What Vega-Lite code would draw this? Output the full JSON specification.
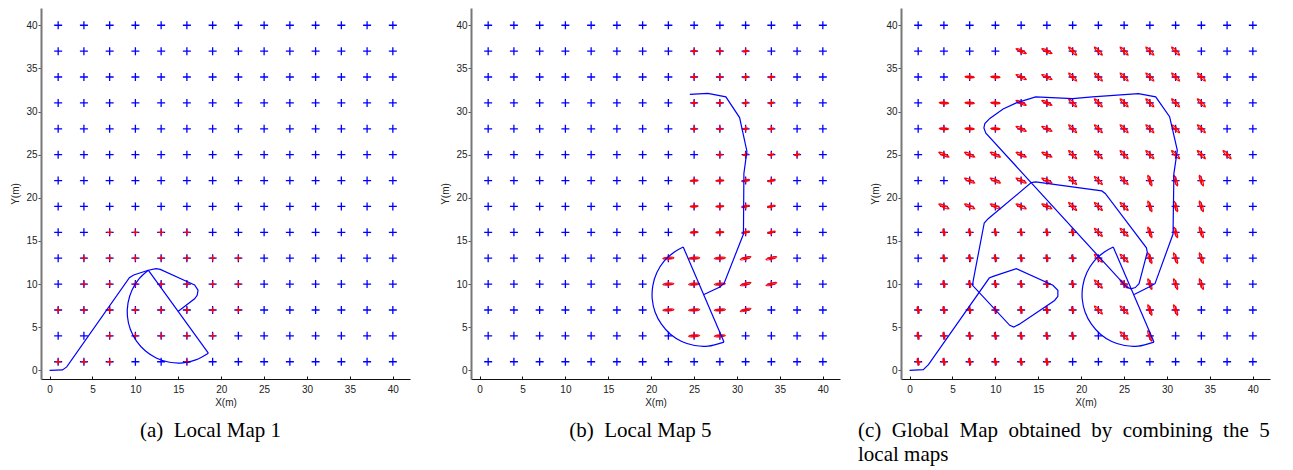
{
  "$schema": "https://vega.github.io/schema/vega-lite/v6.json",
  "padding": {"left": 10, "top": 8, "right": 5, "bottom": 5},
  "datasets": {
    "grid": [
      {"x":1,"y":1},{"x":4,"y":1},{"x":7,"y":1},{"x":10,"y":1},{"x":13,"y":1},{"x":16,"y":1},{"x":19,"y":1},{"x":22,"y":1},{"x":25,"y":1},{"x":28,"y":1},{"x":31,"y":1},{"x":34,"y":1},{"x":37,"y":1},{"x":40,"y":1},
      {"x":1,"y":4},{"x":4,"y":4},{"x":7,"y":4},{"x":10,"y":4},{"x":13,"y":4},{"x":16,"y":4},{"x":19,"y":4},{"x":22,"y":4},{"x":25,"y":4},{"x":28,"y":4},{"x":31,"y":4},{"x":34,"y":4},{"x":37,"y":4},{"x":40,"y":4},
      {"x":1,"y":7},{"x":4,"y":7},{"x":7,"y":7},{"x":10,"y":7},{"x":13,"y":7},{"x":16,"y":7},{"x":19,"y":7},{"x":22,"y":7},{"x":25,"y":7},{"x":28,"y":7},{"x":31,"y":7},{"x":34,"y":7},{"x":37,"y":7},{"x":40,"y":7},
      {"x":1,"y":10},{"x":4,"y":10},{"x":7,"y":10},{"x":10,"y":10},{"x":13,"y":10},{"x":16,"y":10},{"x":19,"y":10},{"x":22,"y":10},{"x":25,"y":10},{"x":28,"y":10},{"x":31,"y":10},{"x":34,"y":10},{"x":37,"y":10},{"x":40,"y":10},
      {"x":1,"y":13},{"x":4,"y":13},{"x":7,"y":13},{"x":10,"y":13},{"x":13,"y":13},{"x":16,"y":13},{"x":19,"y":13},{"x":22,"y":13},{"x":25,"y":13},{"x":28,"y":13},{"x":31,"y":13},{"x":34,"y":13},{"x":37,"y":13},{"x":40,"y":13},
      {"x":1,"y":16},{"x":4,"y":16},{"x":7,"y":16},{"x":10,"y":16},{"x":13,"y":16},{"x":16,"y":16},{"x":19,"y":16},{"x":22,"y":16},{"x":25,"y":16},{"x":28,"y":16},{"x":31,"y":16},{"x":34,"y":16},{"x":37,"y":16},{"x":40,"y":16},
      {"x":1,"y":19},{"x":4,"y":19},{"x":7,"y":19},{"x":10,"y":19},{"x":13,"y":19},{"x":16,"y":19},{"x":19,"y":19},{"x":22,"y":19},{"x":25,"y":19},{"x":28,"y":19},{"x":31,"y":19},{"x":34,"y":19},{"x":37,"y":19},{"x":40,"y":19},
      {"x":1,"y":22},{"x":4,"y":22},{"x":7,"y":22},{"x":10,"y":22},{"x":13,"y":22},{"x":16,"y":22},{"x":19,"y":22},{"x":22,"y":22},{"x":25,"y":22},{"x":28,"y":22},{"x":31,"y":22},{"x":34,"y":22},{"x":37,"y":22},{"x":40,"y":22},
      {"x":1,"y":25},{"x":4,"y":25},{"x":7,"y":25},{"x":10,"y":25},{"x":13,"y":25},{"x":16,"y":25},{"x":19,"y":25},{"x":22,"y":25},{"x":25,"y":25},{"x":28,"y":25},{"x":31,"y":25},{"x":34,"y":25},{"x":37,"y":25},{"x":40,"y":25},
      {"x":1,"y":28},{"x":4,"y":28},{"x":7,"y":28},{"x":10,"y":28},{"x":13,"y":28},{"x":16,"y":28},{"x":19,"y":28},{"x":22,"y":28},{"x":25,"y":28},{"x":28,"y":28},{"x":31,"y":28},{"x":34,"y":28},{"x":37,"y":28},{"x":40,"y":28},
      {"x":1,"y":31},{"x":4,"y":31},{"x":7,"y":31},{"x":10,"y":31},{"x":13,"y":31},{"x":16,"y":31},{"x":19,"y":31},{"x":22,"y":31},{"x":25,"y":31},{"x":28,"y":31},{"x":31,"y":31},{"x":34,"y":31},{"x":37,"y":31},{"x":40,"y":31},
      {"x":1,"y":34},{"x":4,"y":34},{"x":7,"y":34},{"x":10,"y":34},{"x":13,"y":34},{"x":16,"y":34},{"x":19,"y":34},{"x":22,"y":34},{"x":25,"y":34},{"x":28,"y":34},{"x":31,"y":34},{"x":34,"y":34},{"x":37,"y":34},{"x":40,"y":34},
      {"x":1,"y":37},{"x":4,"y":37},{"x":7,"y":37},{"x":10,"y":37},{"x":13,"y":37},{"x":16,"y":37},{"x":19,"y":37},{"x":22,"y":37},{"x":25,"y":37},{"x":28,"y":37},{"x":31,"y":37},{"x":34,"y":37},{"x":37,"y":37},{"x":40,"y":37},
      {"x":1,"y":40},{"x":4,"y":40},{"x":7,"y":40},{"x":10,"y":40},{"x":13,"y":40},{"x":16,"y":40},{"x":19,"y":40},{"x":22,"y":40},{"x":25,"y":40},{"x":28,"y":40},{"x":31,"y":40},{"x":34,"y":40},{"x":37,"y":40},{"x":40,"y":40}
    ],
    "obs1": [
      {"x":7,"y":16},{"x":10,"y":16},{"x":13,"y":16},{"x":16,"y":16},
      {"x":4,"y":13},{"x":7,"y":13},{"x":10,"y":13},{"x":13,"y":13},{"x":16,"y":13},{"x":19,"y":13},{"x":22,"y":13},
      {"x":4,"y":10},{"x":7,"y":10},{"x":10,"y":10},{"x":13,"y":10},{"x":16,"y":10},{"x":19,"y":10},{"x":22,"y":10},
      {"x":1,"y":7},{"x":4,"y":7},{"x":7,"y":7},{"x":10,"y":7},{"x":13,"y":7},{"x":16,"y":7},{"x":19,"y":7},{"x":22,"y":7},
      {"x":7,"y":4},{"x":10,"y":4},{"x":13,"y":4},{"x":16,"y":4},{"x":19,"y":4},
      {"x":1,"y":1},{"x":4,"y":1},{"x":7,"y":1},{"x":16,"y":1}
    ],
    "obs2": [
      {"x":25,"y":37},{"x":28,"y":37},{"x":31,"y":37},
      {"x":25,"y":34},{"x":28,"y":34},{"x":31,"y":34},{"x":34,"y":34},
      {"x":25,"y":31},{"x":28,"y":31},{"x":31,"y":31},{"x":34,"y":31},
      {"x":25,"y":28},{"x":28,"y":28},{"x":31,"y":28},{"x":34,"y":28},
      {"x":28,"y":25},{"x":31,"y":25},{"x":34,"y":25},{"x":37,"y":25},
      {"x":25,"y":22},{"x":28,"y":22},{"x":31,"y":22},{"x":34,"y":22},
      {"x":25,"y":19},{"x":28,"y":19},{"x":31,"y":19},{"x":34,"y":19},
      {"x":25,"y":16},{"x":28,"y":16},{"x":31,"y":16},{"x":34,"y":16},
      {"x":22,"y":13},{"x":25,"y":13},{"x":28,"y":13},{"x":31,"y":13},{"x":34,"y":13},
      {"x":22,"y":10},{"x":25,"y":10},{"x":28,"y":10},{"x":31,"y":10},{"x":34,"y":10},
      {"x":22,"y":7},{"x":25,"y":7},{"x":28,"y":7},{"x":31,"y":7},
      {"x":25,"y":4},{"x":28,"y":4}
    ],
    "obs3": [
      {"x":13,"y":37},{"x":16,"y":37},{"x":19,"y":37},{"x":22,"y":37},{"x":25,"y":37},{"x":28,"y":37},{"x":31,"y":37},
      {"x":7,"y":34},{"x":10,"y":34},{"x":13,"y":34},{"x":16,"y":34},{"x":19,"y":34},{"x":22,"y":34},{"x":25,"y":34},{"x":28,"y":34},{"x":31,"y":34},{"x":34,"y":34},
      {"x":4,"y":31},{"x":7,"y":31},{"x":10,"y":31},{"x":13,"y":31},{"x":16,"y":31},{"x":19,"y":31},{"x":22,"y":31},{"x":25,"y":31},{"x":28,"y":31},{"x":31,"y":31},{"x":34,"y":31},
      {"x":4,"y":28},{"x":7,"y":28},{"x":10,"y":28},{"x":13,"y":28},{"x":16,"y":28},{"x":19,"y":28},{"x":22,"y":28},{"x":25,"y":28},{"x":28,"y":28},{"x":31,"y":28},{"x":34,"y":28},
      {"x":4,"y":25},{"x":7,"y":25},{"x":10,"y":25},{"x":13,"y":25},{"x":16,"y":25},{"x":19,"y":25},{"x":22,"y":25},{"x":25,"y":25},{"x":28,"y":25},{"x":31,"y":25},{"x":34,"y":25},{"x":37,"y":25},
      {"x":7,"y":22},{"x":10,"y":22},{"x":13,"y":22},{"x":16,"y":22},{"x":19,"y":22},{"x":22,"y":22},{"x":25,"y":22},{"x":28,"y":22},{"x":31,"y":22},{"x":34,"y":22},
      {"x":4,"y":19},{"x":7,"y":19},{"x":10,"y":19},{"x":13,"y":19},{"x":16,"y":19},{"x":19,"y":19},{"x":22,"y":19},{"x":25,"y":19},{"x":28,"y":19},{"x":31,"y":19},{"x":34,"y":19},
      {"x":4,"y":16},{"x":7,"y":16},{"x":10,"y":16},{"x":13,"y":16},{"x":16,"y":16},{"x":19,"y":16},{"x":22,"y":16},{"x":25,"y":16},{"x":28,"y":16},{"x":31,"y":16},{"x":34,"y":16},
      {"x":4,"y":13},{"x":7,"y":13},{"x":10,"y":13},{"x":13,"y":13},{"x":16,"y":13},{"x":19,"y":13},{"x":22,"y":13},{"x":25,"y":13},{"x":28,"y":13},{"x":31,"y":13},{"x":34,"y":13},
      {"x":4,"y":10},{"x":7,"y":10},{"x":10,"y":10},{"x":13,"y":10},{"x":16,"y":10},{"x":19,"y":10},{"x":22,"y":10},{"x":25,"y":10},{"x":28,"y":10},{"x":31,"y":10},{"x":34,"y":10},
      {"x":1,"y":7},{"x":4,"y":7},{"x":7,"y":7},{"x":10,"y":7},{"x":13,"y":7},{"x":16,"y":7},{"x":19,"y":7},{"x":22,"y":7},{"x":25,"y":7},{"x":28,"y":7},{"x":31,"y":7},
      {"x":1,"y":4},{"x":4,"y":4},{"x":7,"y":4},{"x":10,"y":4},{"x":13,"y":4},{"x":16,"y":4},{"x":19,"y":4},{"x":25,"y":4},{"x":28,"y":4},
      {"x":1,"y":1},{"x":4,"y":1},{"x":7,"y":1},{"x":10,"y":1},{"x":13,"y":1},{"x":16,"y":1}
    ],
    "traj1": [
      {"i":0,"x":0,"y":0},{"i":1,"x":1.5,"y":0.05},{"i":2,"x":2.0,"y":0.4},{"i":3,"x":9.3,"y":10.75},{"i":4,"x":9.8,"y":11.05},
      {"i":5,"x":11.5,"y":11.6},{"i":6,"x":12.4,"y":11.8},{"i":7,"x":12.9,"y":11.7},{"i":8,"x":16.0,"y":10.3},{"i":9,"x":16.9,"y":9.9},
      {"i":10,"x":17.3,"y":9.3},{"i":11,"x":17.2,"y":8.7},{"i":12,"x":16.9,"y":8.3},{"i":13,"x":15.0,"y":6.85}
    ],
    "sector1": [
      {"seg":"arc","i":0,"x":18.5,"y":1.99},{"seg":"arc","i":1,"x":17.03,"y":1.21},{"seg":"arc","i":2,"x":15.52,"y":0.87},
      {"seg":"arc","i":3,"x":13.97,"y":0.94},{"seg":"arc","i":4,"x":12.48,"y":1.41},{"seg":"arc","i":5,"x":11.18,"y":2.24},
      {"seg":"arc","i":6,"x":10.13,"y":3.39},{"seg":"arc","i":7,"x":9.41,"y":4.77},{"seg":"arc","i":8,"x":9.07,"y":6.28},
      {"seg":"arc","i":9,"x":9.14,"y":7.83},{"seg":"arc","i":10,"x":9.61,"y":9.32},{"seg":"arc","i":11,"x":10.44,"y":10.63},
      {"seg":"arc","i":12,"x":11.5,"y":11.61},
      {"seg":"dia","i":0,"x":11.5,"y":11.61},{"seg":"dia","i":1,"x":18.5,"y":1.99}
    ],
    "traj2": [
      {"i":0,"x":24.5,"y":32.0},{"i":1,"x":26.6,"y":32.1},{"i":2,"x":28.7,"y":31.7},{"i":3,"x":30.3,"y":29.3},{"i":4,"x":31.15,"y":25.4},
      {"i":5,"x":30.8,"y":22.8},{"i":6,"x":30.75,"y":15.8},{"i":7,"x":28.5,"y":10.1},{"i":8,"x":28.0,"y":9.65},{"i":9,"x":26.15,"y":8.8}
    ],
    "sector2": [
      {"seg":"arc","i":0,"x":28.48,"y":3.28},{"seg":"arc","i":1,"x":26.62,"y":2.81},{"seg":"arc","i":2,"x":25.06,"y":2.88},
      {"seg":"arc","i":3,"x":23.56,"y":3.35},{"seg":"arc","i":4,"x":22.24,"y":4.19},{"seg":"arc","i":5,"x":21.19,"y":5.35},
      {"seg":"arc","i":6,"x":20.46,"y":6.74},{"seg":"arc","i":7,"x":20.12,"y":8.27},{"seg":"arc","i":8,"x":20.19,"y":9.83},
      {"seg":"arc","i":9,"x":20.66,"y":11.33},{"seg":"arc","i":10,"x":21.5,"y":12.65},{"seg":"arc","i":11,"x":22.66,"y":13.7},
      {"seg":"arc","i":12,"x":23.73,"y":14.3},
      {"seg":"dia","i":0,"x":23.73,"y":14.3},{"seg":"dia","i":1,"x":28.48,"y":3.28}
    ],
    "traj3": [
      {"i":0,"x":0,"y":0},{"i":1,"x":1.6,"y":0.08},{"i":2,"x":2.2,"y":0.66},{"i":3,"x":9.28,"y":10.7},{"i":4,"x":9.74,"y":10.9},
      {"i":5,"x":12.44,"y":11.79},{"i":6,"x":16.7,"y":9.86},{"i":7,"x":17.28,"y":9.28},{"i":8,"x":17.28,"y":8.58},{"i":9,"x":16.9,"y":8.1},
      {"i":10,"x":12.75,"y":5.33},{"i":11,"x":12.14,"y":5.02},{"i":12,"x":11.67,"y":5.22},{"i":13,"x":7.34,"y":9.86},{"i":14,"x":7.42,"y":10.43},
      {"i":15,"x":8.7,"y":17.08},{"i":16,"x":9.16,"y":17.58},{"i":17,"x":14.18,"y":21.76},{"i":18,"x":14.69,"y":21.84},{"i":19,"x":22.4,"y":20.8},
      {"i":20,"x":22.8,"y":20.5},{"i":21,"x":27.6,"y":14.2},{"i":22,"x":27.7,"y":13.7},{"i":23,"x":26.74,"y":10.05},{"i":24,"x":26.3,"y":9.6},
      {"i":25,"x":25.8,"y":9.45},{"i":26,"x":25.3,"y":9.65},{"i":27,"x":8.89,"y":27.5},{"i":28,"x":8.66,"y":28.1},{"i":29,"x":8.77,"y":28.6},
      {"i":30,"x":9.35,"y":29.2},{"i":31,"x":10.9,"y":30.3},{"i":32,"x":12.44,"y":31.0},{"i":33,"x":14.69,"y":31.7},{"i":34,"x":19.0,"y":31.5},
      {"i":35,"x":21.3,"y":31.7},{"i":36,"x":26.67,"y":32.08},{"i":37,"x":28.68,"y":31.7},{"i":38,"x":30.3,"y":29.4},{"i":39,"x":31.2,"y":25.5},
      {"i":40,"x":30.8,"y":22.8},{"i":41,"x":30.7,"y":15.8},{"i":42,"x":28.6,"y":10.05},{"i":43,"x":27.9,"y":9.66},{"i":44,"x":26.17,"y":8.8}
    ]
  },
  "spacing": 61,
  "bounds": "flush",
  "hconcat": [
    {
      "width": 369, "height": 371,
      "title": {"text": "(a)\u00a0 Local Map 1", "anchor": "middle", "frame": "bounds"},
      "encoding": {
        "x": {"field": "x", "type": "quantitative", "scale": {"domain": [-1, 42], "nice": false, "zero": false},
              "axis": {"title": "X(m)", "values": [0,5,10,15,20,25,30,35,40], "tickSize": -3, "labelPadding": 8, "titlePadding": 3, "domainColor": "#111", "tickColor": "#111", "labelFlush": false}},
        "y": {"field": "y", "type": "quantitative", "scale": {"domain": [-1, 42], "nice": false, "zero": false},
              "axis": {"title": "Y(m)", "values": [0,5,10,15,20,25,30,35,40], "tickSize": 3, "labelPadding": 1, "titlePadding": 5, "domainColor": "#777", "domainWidth": 2, "tickColor": "#555", "labelFlush": false}}
      },
      "layer": [
        {"data": {"name": "grid"}, "mark": {"type": "point", "shape": "M-1,0L1,0M0,-1L0,1", "size": 64, "filled": false, "color": "#0000ff", "strokeWidth": 1.3, "opacity": 1}},
        {"data": {"name": "obs1"}, "mark": {"type": "point", "shape": "M-1,0L1,0M0,-1L0,1", "size": 30, "filled": false, "color": "#ff0000", "strokeWidth": 1.3, "opacity": 1}},
        {"data": {"name": "traj1"}, "mark": {"type": "line", "color": "#0000ff", "strokeWidth": 1.2}, "encoding": {"order": {"field": "i", "type": "quantitative"}}},
        {"data": {"name": "sector1"}, "mark": {"type": "line", "color": "#0000ff", "strokeWidth": 1.2, "interpolate": "catmull-rom"}, "encoding": {"order": {"field": "i", "type": "quantitative"}, "detail": {"field": "seg", "type": "nominal"}}}
      ]
    },
    {
      "width": 369, "height": 371,
      "title": {"text": "(b)\u00a0 Local Map 5", "anchor": "middle", "frame": "bounds"},
      "encoding": {
        "x": {"field": "x", "type": "quantitative", "scale": {"domain": [-1, 42], "nice": false, "zero": false},
              "axis": {"title": "X(m)", "values": [0,5,10,15,20,25,30,35,40], "tickSize": -3, "labelPadding": 8, "titlePadding": 3, "domainColor": "#111", "tickColor": "#111", "labelFlush": false}},
        "y": {"field": "y", "type": "quantitative", "scale": {"domain": [-1, 42], "nice": false, "zero": false},
              "axis": {"title": "Y(m)", "values": [0,5,10,15,20,25,30,35,40], "tickSize": 3, "labelPadding": 1, "titlePadding": 5, "domainColor": "#777", "domainWidth": 2, "tickColor": "#555", "labelFlush": false}}
      },
      "layer": [
        {"data": {"name": "grid"}, "mark": {"type": "point", "shape": "M-1,0L1,0M0,-1L0,1", "size": 64, "filled": false, "color": "#0000ff", "strokeWidth": 1.3, "opacity": 1}},
        {"data": {"name": "obs2"}, "mark": {"type": "point", "shape": "M1,0L0.866,0.1L0.5,0.173L0,0.2L-0.5,0.173L-0.866,0.1L-1,0L-0.866,-0.1L-0.5,-0.173L0,-0.2L0.5,-0.173L0.866,-0.1Z", "filled": false, "color": "#ff0000", "strokeWidth": 1, "opacity": 1},
         "encoding": {
           "size": {"condition": [{"test": "datum.y <= 13", "value": 120}, {"test": "datum.y <= 22", "value": 60}], "value": 25},
           "angle": {"condition": [{"test": "datum.x >= 31", "value": -15}], "value": -4}
         }},
        {"data": {"name": "obs2"}, "mark": {"type": "point", "shape": "M-1,0L1,0M0,-1L0,1", "size": 30, "filled": false, "color": "#ff0000", "strokeWidth": 1.3, "opacity": 1}},
        {"data": {"name": "traj2"}, "mark": {"type": "line", "color": "#0000ff", "strokeWidth": 1.2}, "encoding": {"order": {"field": "i", "type": "quantitative"}}},
        {"data": {"name": "sector2"}, "mark": {"type": "line", "color": "#0000ff", "strokeWidth": 1.2, "interpolate": "catmull-rom"}, "encoding": {"order": {"field": "i", "type": "quantitative"}, "detail": {"field": "seg", "type": "nominal"}}}
      ]
    },
    {
      "width": 369, "height": 371,
      "title": {"text": ["(c) \u00a0Global \u00a0Map \u00a0obtained \u00a0by \u00a0combining \u00a0the \u00a05", "local maps"], "anchor": "start", "frame": "group", "dx": -43, "lineHeight": 23.5},
      "encoding": {
        "x": {"field": "x", "type": "quantitative", "scale": {"domain": [-1, 42], "nice": false, "zero": false},
              "axis": {"title": "X(m)", "values": [0,5,10,15,20,25,30,35,40], "tickSize": -3, "labelPadding": 8, "titlePadding": 3, "domainColor": "#111", "tickColor": "#111", "labelFlush": false}},
        "y": {"field": "y", "type": "quantitative", "scale": {"domain": [-1, 42], "nice": false, "zero": false},
              "axis": {"title": "Y(m)", "values": [0,5,10,15,20,25,30,35,40], "tickSize": 3, "labelPadding": 1, "titlePadding": 5, "domainColor": "#777", "domainWidth": 2, "tickColor": "#555", "labelFlush": false}}
      },
      "layer": [
        {"data": {"name": "grid"}, "mark": {"type": "point", "shape": "M-1,0L1,0M0,-1L0,1", "size": 64, "filled": false, "color": "#0000ff", "strokeWidth": 1.3, "opacity": 1}},
        {"data": {"name": "obs3"}, "mark": {"type": "point", "shape": "M1,0L0.866,0.1L0.5,0.173L0,0.2L-0.5,0.173L-0.866,0.1L-1,0L-0.866,-0.1L-0.5,-0.173L0,-0.2L0.5,-0.173L0.866,-0.1Z", "filled": false, "color": "#ff0000", "strokeWidth": 1.2, "opacity": 1},
         "encoding": {
           "size": {"condition": [{"test": "datum.y <= 16 && datum.x <= 19", "value": 40}, {"test": "datum.y >= 28 && datum.x <= 10", "value": 80}], "value": 120},
           "angle": {"condition": [{"test": "datum.y >= 28 && datum.x <= 10", "value": 3}, {"test": "datum.x >= 28 && datum.y <= 22", "value": 70}, {"test": "datum.y <= 16 && datum.x <= 19", "value": 75}, {"test": "datum.x <= 16", "value": 25}], "value": 45}
         }},
        {"data": {"name": "obs3"}, "mark": {"type": "point", "shape": "M-1,0L1,0M0,-1L0,1", "size": 30, "filled": false, "color": "#ff0000", "strokeWidth": 1.3, "opacity": 1}},
        {"data": {"name": "traj3"}, "mark": {"type": "line", "color": "#0000ff", "strokeWidth": 1.2}, "encoding": {"order": {"field": "i", "type": "quantitative"}}},
        {"data": {"name": "sector2"}, "mark": {"type": "line", "color": "#0000ff", "strokeWidth": 1.2, "interpolate": "catmull-rom"}, "encoding": {"order": {"field": "i", "type": "quantitative"}, "detail": {"field": "seg", "type": "nominal"}}}
      ]
    }
  ],
  "config": {
    "view": {"stroke": null},
    "font": "Liberation Sans",
    "axis": {"labelFont": "Liberation Sans", "labelFontSize": 10, "labelColor": "#222", "titleFont": "Liberation Sans", "titleFontSize": 10, "titleFontWeight": "normal", "titleColor": "#222", "grid": false},
    "title": {"font": "Liberation Serif", "fontSize": 21, "fontWeight": "normal", "color": "#000", "orient": "bottom", "offset": 13}
  }
}
